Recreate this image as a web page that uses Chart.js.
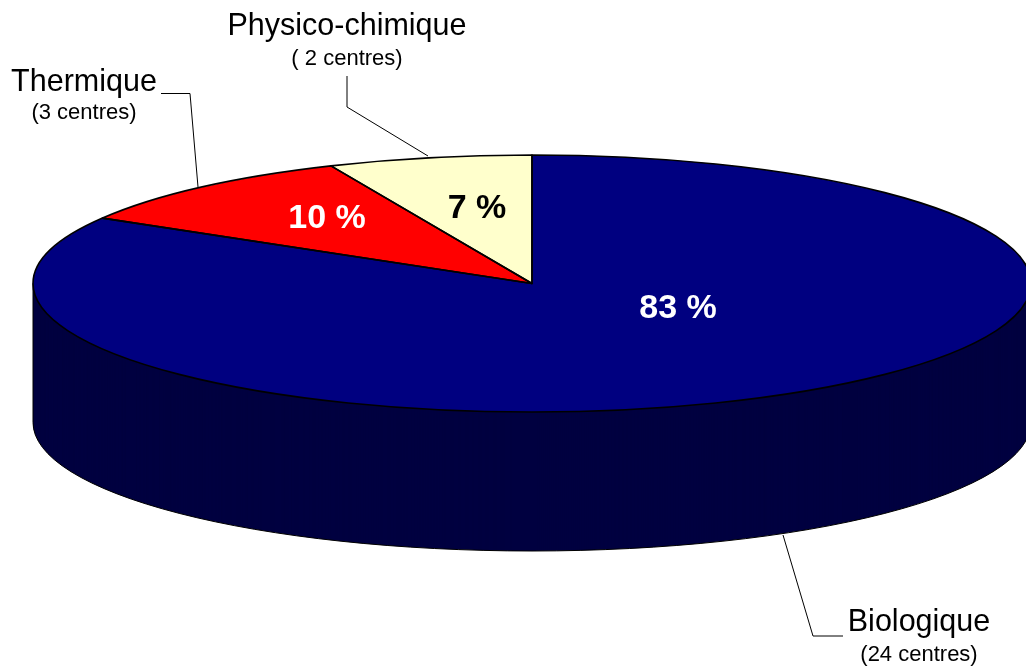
<!DOCTYPE html>
<html>
<head>
<meta charset="utf-8">
<style>html,body{margin:0;padding:0;background:#fff}canvas{display:block}</style>
<script src="https://cdn.jsdelivr.net/npm/chart.js@4/dist/chart.umd.min.js"></script>
</head>
<body>
<canvas id="c" width="1026" height="666"></canvas>
<script>
const categories = ['Biologique', 'Thermique', 'Physico-chimique'];
const centres = ['(24 centres)', '(3 centres)', '( 2 centres)'];
const values = [83.5, 9.9, 6.6];
const percentLabels = ['83 %', '10 %', '7 %'];
const topColors = ['#000080', '#FF0000', '#FFFFCC'];
const percentColors = ['#FFFFFF', '#FFFFFF', '#000000'];

const WALL = '#000040';
const FONT = '"Liberation Sans", Arial, sans-serif';
const view = {cx: 532, cy: 283.5, rx: 499, ry: 128.5, depth: 139};
const percentPos = [[678, 317.5], [327, 228], [477, 218]];
const namePos = [[919, 631], [84, 91], [347, 35]];
const subPos = [[919, 661], [84, 119], [347, 65]];
const leaders = [
  [[783, 535], [813, 636], [843, 636]],
  [[161, 93.5], [190, 93.5], [198, 187]],
  [[347, 76], [347, 107], [428, 156]]
];

function squash(ctx, arc, dy) {
  ctx.translate(view.cx, view.cy + (dy || 0));
  ctx.scale(1, view.ry / arc.outerRadius);
  ctx.translate(-arc.x, -arc.y);
}

const pie3d = {
  id: 'pie3d',
  beforeDatasetsDraw(chart) {
    const ctx = chart.ctx;
    const arcs = chart.getDatasetMeta(0).data;
    const a0 = arcs[0];
    // side wall: the library's own arcs, repeated downward
    for (let d = view.depth; d >= 1; d--) {
      ctx.save();
      squash(ctx, a0, d);
      arcs.forEach(a => {
        const o = a.options;
        a.options = Object.assign({}, o, {backgroundColor: WALL, borderWidth: 0});
        a.draw(ctx);
        a.options = o;
      });
      ctx.restore();
    }
    // wall outline
    ctx.save();
    ctx.beginPath();
    ctx.save();
    squash(ctx, a0, 0);
    ctx.moveTo(a0.x - a0.outerRadius, a0.y);
    ctx.restore();
    ctx.save();
    squash(ctx, a0, view.depth);
    ctx.arc(a0.x, a0.y, a0.outerRadius, Math.PI, 0, true);
    ctx.restore();
    ctx.lineTo(view.cx + view.rx, view.cy);
    ctx.strokeStyle = '#000';
    ctx.lineWidth = 1;
    ctx.stroke();
    ctx.restore();
    // squash the top face
    ctx.save();
    squash(ctx, a0, 0);
  },
  afterDatasetsDraw(chart) {
    const ctx = chart.ctx;
    ctx.restore();
    const arcs = chart.getDatasetMeta(0).data;
    // slice outlines with an even pen
    arcs.forEach(a => {
      ctx.save();
      ctx.beginPath();
      ctx.save();
      squash(ctx, a, 0);
      ctx.moveTo(a.x, a.y);
      ctx.arc(a.x, a.y, a.outerRadius, a.startAngle, a.endAngle);
      ctx.closePath();
      ctx.restore();
      ctx.strokeStyle = '#000';
      ctx.lineWidth = 1.6;
      ctx.lineJoin = 'round';
      ctx.stroke();
      ctx.restore();
    });
    // leader lines
    ctx.save();
    ctx.strokeStyle = '#000';
    ctx.lineWidth = 1;
    leaders.forEach(l => {
      ctx.beginPath();
      l.forEach((p, i) => i ? ctx.lineTo(p[0], p[1]) : ctx.moveTo(p[0], p[1]));
      ctx.stroke();
    });
    // texts
    ctx.textAlign = 'center';
    ctx.textBaseline = 'alphabetic';
    percentLabels.forEach((t, i) => {
      ctx.font = 'bold 34px ' + FONT;
      ctx.fillStyle = percentColors[i];
      ctx.fillText(t, percentPos[i][0], percentPos[i][1]);
    });
    categories.forEach((t, i) => {
      ctx.fillStyle = '#000';
      ctx.font = '30.5px ' + FONT;
      ctx.fillText(t, namePos[i][0], namePos[i][1]);
      ctx.font = '22px ' + FONT;
      ctx.fillText(centres[i], subPos[i][0], subPos[i][1]);
    });
    ctx.restore();
  }
};

new Chart(document.getElementById('c'), {
  type: 'pie',
  data: {
    labels: categories,
    datasets: [{data: values, backgroundColor: topColors, borderWidth: 0, clip: false}]
  },
  options: {
    responsive: false,
    animation: false,
    radius: view.rx,
    rotation: 0,
    circumference: 360,
    events: [],
    layout: {padding: 0},
    plugins: {legend: {display: false}, tooltip: {enabled: false}, title: {display: false}}
  },
  plugins: [pie3d]
});
</script>
</body>
</html>
